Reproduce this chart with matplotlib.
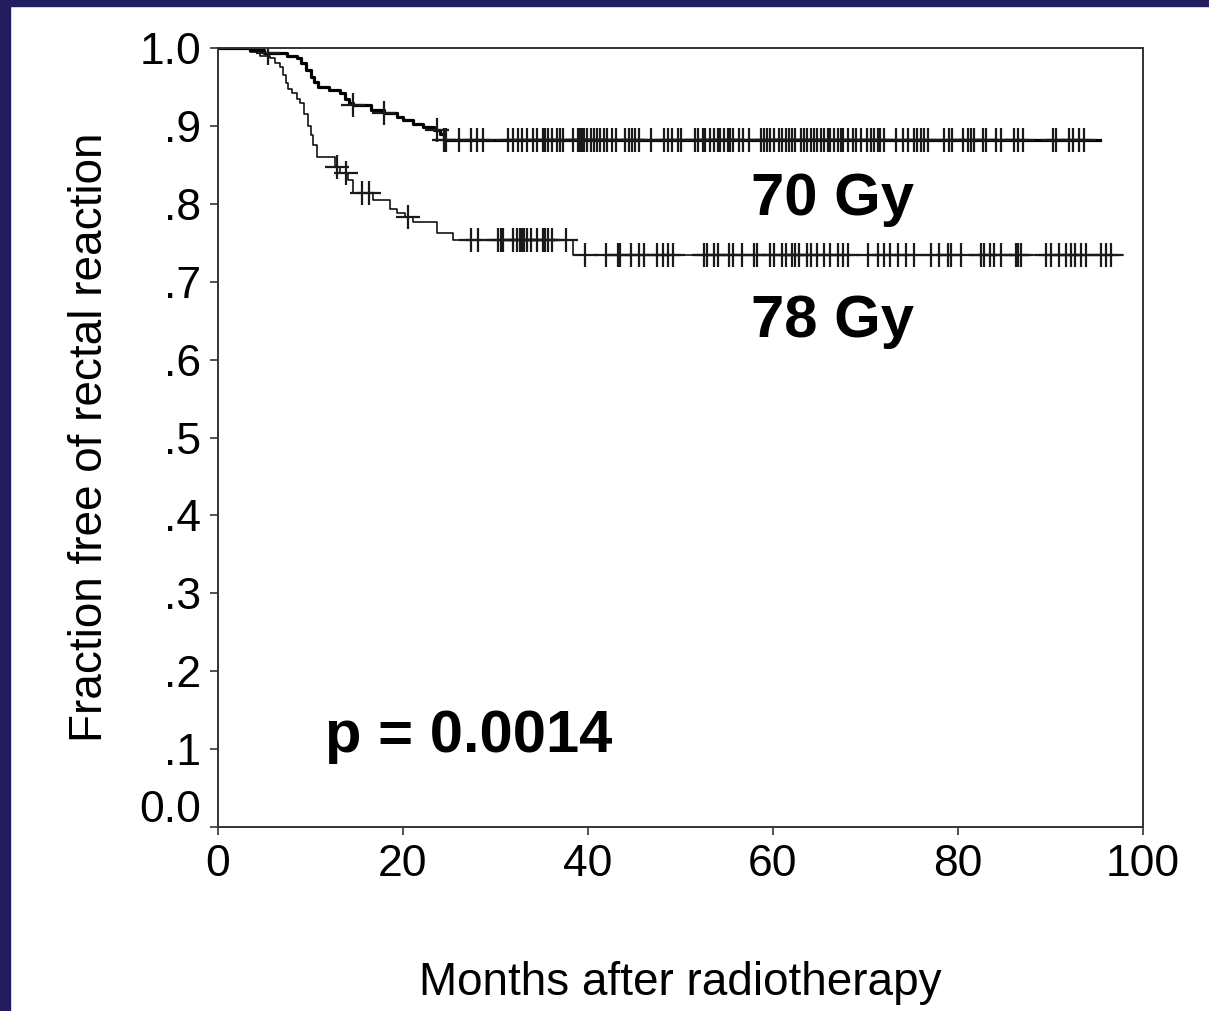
import numpy as np
import matplotlib
matplotlib.use('Agg')
import matplotlib.pyplot as plt
from matplotlib.patches import Rectangle
from matplotlib.transforms import ScaledTranslation

plt.rcParams['font.family'] = ['Liberation Sans', 'DejaVu Sans']

# Kaplan-Meier step data (months, fraction after the step)
t_70 = [0, 3.5, 5.0, 7.5, 8.5, 9.0, 9.5, 10.0, 10.4, 10.8, 12.0, 13.2, 13.7,
        14.2, 14.6, 16.5, 17.9, 19.4, 20.0, 21.1, 22.2, 23.3, 24.0, 24.4, 95.3]
s_70 = [1.0, 0.997, 0.994, 0.990, 0.987, 0.981, 0.972, 0.963, 0.956, 0.950,
        0.946, 0.942, 0.935, 0.930, 0.927, 0.920, 0.916, 0.912, 0.908, 0.903,
        0.898, 0.895, 0.890, 0.882, 0.882]

t_78 = [0, 3.5, 4.5, 5.6, 6.2, 6.7, 7.0, 7.3, 7.6, 8.0, 8.5, 8.9, 9.3, 9.7,
        10.0, 10.3, 10.7, 12.7, 13.2, 14.0, 14.6, 16.8, 18.6, 19.4, 20.2,
        21.1, 23.7, 25.4, 38.4, 97.8]
s_78 = [1.0, 0.995, 0.990, 0.987, 0.981, 0.975, 0.965, 0.955, 0.948, 0.942,
        0.935, 0.929, 0.915, 0.900, 0.888, 0.875, 0.860, 0.847, 0.840, 0.831,
        0.814, 0.805, 0.793, 0.788, 0.783, 0.777, 0.763, 0.754, 0.734, 0.734]

# censored observations (months)
cens_70 = [5.4, 14.6, 17.9, 23.7, 24.4, 24.6, 26.0, 27.3, 28.0, 28.7, 31.4,
           31.9, 32.4, 32.9, 33.4, 34.0, 34.5, 35.1, 35.4, 35.7, 36.1, 36.7,
           37.0, 37.3, 38.4, 38.9, 39.1, 39.4, 39.6, 39.9, 40.3, 40.6, 41.0,
           41.3, 41.7, 42.1, 42.6, 43.0, 44.0, 44.4, 44.8, 45.1, 45.5, 46.8,
           48.2, 48.7, 49.1, 49.7, 50.0, 51.6, 51.9, 52.4, 52.7, 53.2, 53.6,
           54.0, 54.3, 54.7, 55.1, 55.4, 55.7, 56.3, 56.8, 57.4, 58.7, 59.0,
           59.4, 59.7, 60.1, 60.6, 61.0, 61.4, 61.7, 62.1, 62.4, 63.0, 63.3,
           63.7, 64.1, 64.4, 64.8, 65.2, 65.5, 65.9, 66.2, 66.6, 67.0, 67.3,
           67.6, 68.1, 68.6, 69.0, 69.5, 70.2, 70.6, 70.9, 71.3, 71.6, 72.0,
           73.3, 74.1, 74.6, 75.2, 75.6, 76.0, 76.3, 76.8, 78.5, 79.0, 79.4,
           80.5, 81.1, 81.4, 81.7, 82.7, 83.0, 84.1, 84.6, 86.0, 86.5, 87.0,
           90.3, 90.6, 92.0, 92.4, 93.1, 93.6]
cens_78 = [12.9, 13.8, 15.6, 16.3, 20.5, 27.3, 28.1, 30.3, 30.6, 30.8, 31.9,
           32.3, 32.6, 32.9, 33.1, 33.4, 33.8, 34.5, 35.1, 35.4, 35.7, 36.1,
           37.6, 39.7, 41.9, 43.2, 43.5, 44.6, 45.5, 46.0, 47.5, 48.1, 48.7,
           49.2, 52.5, 52.9, 53.6, 54.1, 55.2, 55.7, 56.7, 57.9, 58.3, 59.7,
           60.1, 61.0, 61.4, 62.1, 62.4, 62.8, 63.7, 64.1, 64.8, 65.5, 66.2,
           67.0, 67.6, 68.1, 70.3, 71.3, 72.0, 72.7, 73.5, 74.4, 75.2, 77.1,
           77.9, 78.9, 79.2, 80.3, 82.5, 82.8, 83.5, 83.9, 84.6, 86.3, 86.5,
           86.8, 89.5, 90.0, 90.9, 91.7, 92.2, 92.7, 93.3, 93.8, 95.5, 96.0,
           96.5]

yticks = [0.0, 0.1, 0.2, 0.3, 0.4, 0.5, 0.6, 0.7, 0.8, 0.9, 1.0]
ytick_labels = ['0.0', '.1', '.2', '.3', '.4', '.5', '.6', '.7', '.8', '.9', '1.0']
xticks = [0, 20, 40, 60, 80, 100]


def surv_at(t, s, times):
    idx = np.searchsorted(t, times, side='right') - 1
    return np.asarray(s)[idx]


fig = plt.figure(figsize=(12.09, 10.11), dpi=100)
fig.patch.set_facecolor('white')
navy = '#211d5f'
fig.patches.append(Rectangle((0, 0), 10 / 1209, 1, transform=fig.transFigure,
                             color=navy, zorder=0))
fig.patches.append(Rectangle((0, 1 - 6 / 1011), 1, 6 / 1011, transform=fig.transFigure,
                             color=navy, zorder=0))

ax = fig.add_axes([218 / 1209, 1 - 827 / 1011, 925 / 1209, 779 / 1011])

ax.plot(t_70, s_70, drawstyle='steps-post', color='black', lw=2.3)
ax.plot(t_78, s_78, drawstyle='steps-post', color='black', lw=1.1)
ax.plot(cens_70, surv_at(t_70, s_70, cens_70), ls='none', marker='+',
        ms=17, mew=1.6, color='#1a1a1a')
ax.plot(cens_78, surv_at(t_78, s_78, cens_78), ls='none', marker='+',
        ms=17, mew=1.6, color='#1a1a1a')

ax.text(57.6, 0.786, '70 Gy', fontsize=43, fontweight='bold', ha='left', va='baseline')
ax.text(57.6, 0.629, '78 Gy', fontsize=43, fontweight='bold', ha='left', va='baseline')
ax.text(11.6, 0.096, 'p = 0.0014', fontsize=43, fontweight='bold', ha='left', va='baseline')

ax.set_xlim(0, 100)
ax.set_ylim(0, 1.0)
ax.set_xticks(xticks)
ax.set_yticks(yticks)
ax.set_yticklabels(ytick_labels)
ax.tick_params(direction='out', length=6, width=1.2, labelsize=32, pad=6, color='#333333')

# the 0.0 label sits a little above the axis line
lab0 = ax.get_yticklabels()[0]
lab0.set_transform(lab0.get_transform() + ScaledTranslation(0, 0.21, fig.dpi_scale_trans))

for sp in ax.spines.values():
    sp.set_color('#333333')
    sp.set_linewidth(1.4)

ax.set_xlabel('Months after radiotherapy', fontsize=33, labelpad=55)
ax.set_ylabel('Fraction free of rectal reaction', fontsize=33, labelpad=20)

plt.savefig('out.png', dpi=100, facecolor='white')
